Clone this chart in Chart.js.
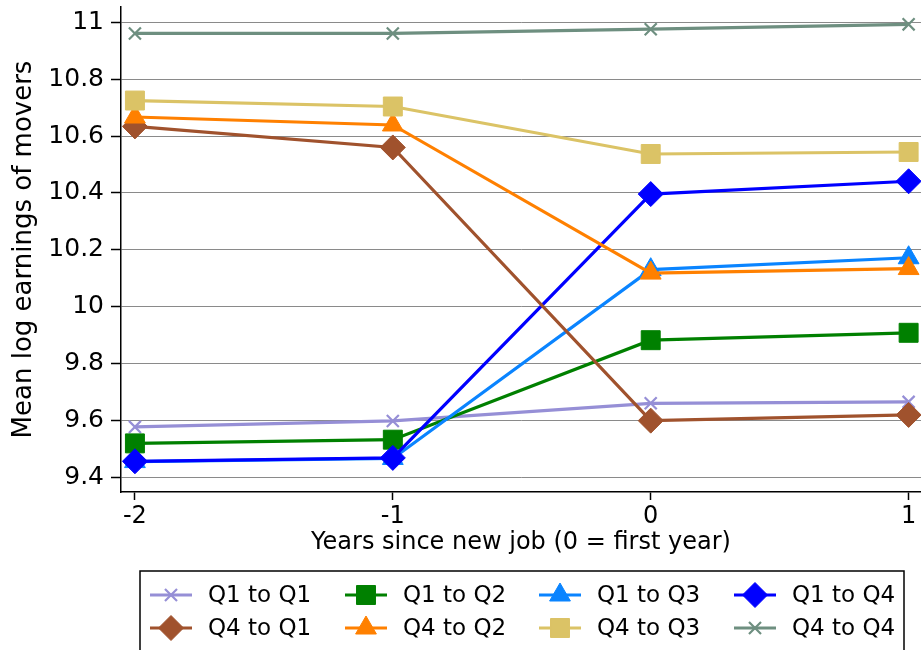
<!DOCTYPE html>
<html>
<head>
<meta charset="utf-8">
<script src="https://cdn.jsdelivr.net/npm/chart.js@4/dist/chart.umd.min.js"></script>
<style>
  html, body { margin: 0; padding: 0; background: #ffffff; }
  #wrap { width: 921px; height: 650px; position: relative; }
</style>
</head>
<body>
<div id="wrap"><canvas id="c" width="921" height="650"></canvas></div>
<script>
// Years relative to the start of the new job
const years = [-2, -1, 0, 1];
const yTicks = [9.4, 9.6, 9.8, 10, 10.2, 10.4, 10.6, 10.8, 11];

// Mean log earnings by origin -> destination quartile
const labels = ['Q1 to Q1', 'Q1 to Q2', 'Q1 to Q3', 'Q1 to Q4',
                'Q4 to Q1', 'Q4 to Q2', 'Q4 to Q3', 'Q4 to Q4'];
const q1ToQ1 = [9.577, 9.598, 9.660, 9.665];
const q1ToQ2 = [9.519, 9.532, 9.882, 9.908];
const q1ToQ3 = [9.455, 9.466, 10.130, 10.172];
const q1ToQ4 = [9.456, 9.468, 10.396, 10.441];
const q4ToQ1 = [10.634, 10.560, 9.599, 9.619];
const q4ToQ2 = [10.667, 10.639, 10.118, 10.134];
const q4ToQ3 = [10.725, 10.704, 10.537, 10.544];
const q4ToQ4 = [10.961, 10.961, 10.976, 10.993];

const seriesValues = [q1ToQ1, q1ToQ2, q1ToQ3, q1ToQ4, q4ToQ1, q4ToQ2, q4ToQ3, q4ToQ4];

const colors = ['#968fd6', '#008000', '#0a84ff', '#0000ff',
                '#a0522d', '#ff8000', '#dbc366', '#6e8f80'];
const markers = ['crossRot', 'rect', 'triangle', 'rectRot',
                 'rectRot', 'triangle', 'rect', 'crossRot'];
const markerRadius = { crossRot: 8.5, rect: 13.4, triangle: 12, rectRot: 12.5 };

const FONT = "'DejaVu Sans', 'Noto Sans', sans-serif";

const datasets = seriesValues.map((vals, i) => ({
  label: labels[i],
  data: years.map((x, k) => ({ x: x, y: vals[k] })),
  borderColor: colors[i],
  backgroundColor: colors[i],
  borderWidth: 3.2,
  pointStyle: markers[i],
  pointRadius: markerRadius[markers[i]],
  pointHoverRadius: markerRadius[markers[i]],
  pointBackgroundColor: colors[i],
  pointBorderColor: colors[i],
  pointBorderWidth: markers[i] === 'crossRot' ? 2.2 : 1,
  tension: 0,
  fill: false,
  clip: false,
  order: seriesValues.length - i   // later series drawn on top
}));

function drawMarker(ctx, style, r, x, y) {
  ctx.beginPath();
  if (style === 'rect') {
    const s = Math.SQRT1_2 * r;
    ctx.rect(x - s, y - s, 2 * s, 2 * s);
    ctx.fill(); ctx.stroke();
  } else if (style === 'rectRot') {
    ctx.moveTo(x, y - r); ctx.lineTo(x + r, y); ctx.lineTo(x, y + r); ctx.lineTo(x - r, y);
    ctx.closePath(); ctx.fill(); ctx.stroke();
  } else if (style === 'triangle') {
    const a = 2 * Math.PI / 3;
    ctx.moveTo(x, y - r);
    ctx.lineTo(x + Math.sin(a) * r, y - Math.cos(a) * r);
    ctx.lineTo(x + Math.sin(2 * a) * r, y - Math.cos(2 * a) * r);
    ctx.closePath(); ctx.fill(); ctx.stroke();
  } else if (style === 'crossRot') {
    const d = Math.SQRT1_2 * r;
    ctx.moveTo(x - d, y - d); ctx.lineTo(x + d, y + d);
    ctx.moveTo(x - d, y + d); ctx.lineTo(x + d, y - d);
    ctx.stroke();
  }
}

// Boxed legend, four columns by two rows, under the x-axis
const boxLegend = {
  id: 'boxLegend',
  afterDraw(chart) {
    const ctx = chart.ctx;
    ctx.save();
    ctx.strokeStyle = '#000000';
    ctx.lineWidth = 1.5;
    ctx.strokeRect(140, 571, 764, 100);
    const colX = [150, 345, 539, 734];
    const rowY = [595, 628];
    chart.data.datasets.forEach((ds, i) => {
      const x0 = colX[i % 4];
      const y0 = rowY[Math.floor(i / 4)];
      ctx.beginPath();
      ctx.strokeStyle = ds.borderColor;
      ctx.lineWidth = 3.2;
      ctx.moveTo(x0, y0);
      ctx.lineTo(x0 + 42, y0);
      ctx.stroke();
      ctx.fillStyle = ds.pointBackgroundColor;
      ctx.strokeStyle = ds.pointBorderColor;
      ctx.lineWidth = ds.pointBorderWidth;
      drawMarker(ctx, ds.pointStyle, ds.pointRadius, x0 + 21, y0);
      ctx.fillStyle = '#000000';
      ctx.font = '23px ' + FONT;
      ctx.textBaseline = 'middle';
      ctx.textAlign = 'left';
      ctx.fillText(ds.label, x0 + 58, y0 + 1);
    });
    ctx.restore();
  }
};

new Chart(document.getElementById('c'), {
  type: 'line',
  data: { datasets: datasets },
  plugins: [boxLegend],
  options: {
    responsive: false,
    animation: false,
    events: [],
    layout: { autoPadding: false, padding: { top: 7, left: 0, right: 0, bottom: 88 } },
    plugins: { legend: { display: false }, tooltip: { enabled: false } },
    scales: {
      x: {
        type: 'linear',
        min: -2.054,
        max: 1.048,
        afterBuildTicks: (scale) => { scale.ticks = years.map(v => ({ value: v })); },
        afterFit: (scale) => {
          scale.height = 70;
          scale.paddingLeft = 0; scale.paddingRight = 0;
          scale.paddingTop = 0; scale.paddingBottom = 0;
        },
        ticks: {
          color: '#000000',
          font: { family: FONT, size: 24 },
          padding: 2,
          maxRotation: 0,
          autoSkip: false,
          callback: (v) => String(v)
        },
        grid: {
          drawOnChartArea: false,
          drawTicks: true,
          tickLength: 8,
          tickColor: '#000000',
          tickWidth: 1.5
        },
        border: { display: true, color: '#000000', width: 1.5 },
        title: {
          display: true,
          text: 'Years since new job (0 = first year)',
          color: '#000000',
          font: { family: FONT, size: 24 },
          padding: { top: 0, bottom: 5 }
        }
      },
      y: {
        type: 'linear',
        min: 9.348,
        max: 11.054,
        afterBuildTicks: (scale) => { scale.ticks = yTicks.map(v => ({ value: v })); },
        afterFit: (scale) => {
          scale.width = 121;
          scale.paddingLeft = 0; scale.paddingRight = 0;
          scale.paddingTop = 0; scale.paddingBottom = 0;
        },
        ticks: {
          color: '#000000',
          font: { family: FONT, size: 25 },
          padding: 7,
          callback: (v) => String(+Number(v).toFixed(1))
        },
        grid: {
          color: '#8a8a8a',
          lineWidth: 1,
          drawTicks: true,
          tickLength: 10,
          tickColor: '#000000',
          tickWidth: 1.5
        },
        border: { display: true, color: '#000000', width: 1.5 },
        title: {
          display: true,
          text: 'Mean log earnings of movers',
          color: '#000000',
          font: { family: FONT, size: 26 },
          padding: { top: 9, bottom: 0 }
        }
      }
    }
  }
});
</script>
</body>
</html>
